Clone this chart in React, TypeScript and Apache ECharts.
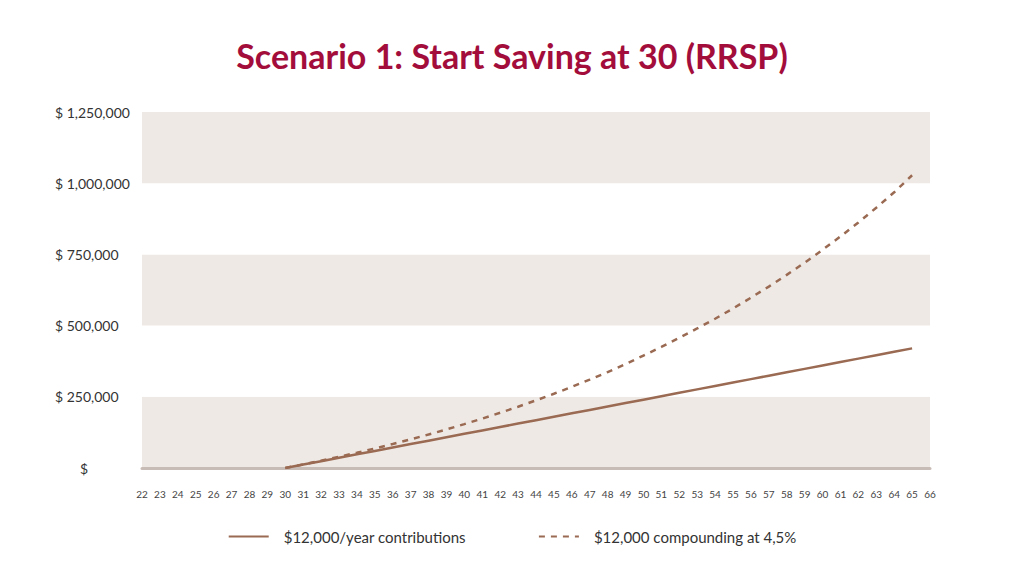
import React, { useEffect, useRef } from "react";
import * as echarts from "echarts";

const titleText = "Scenario 1: Start Saving at 30 (RRSP)";
const ages = [
  "22","23","24","25","26","27","28","29","30","31","32","33","34","35","36","37","38","39","40","41","42","43","44",
  "45","46","47","48","49","50","51","52","53","54","55","56","57","58","59","60","61","62","63","64","65","66",
];
const seriesNames = ["$12,000/year contributions", "$12,000 compounding at 4,5%"];
const contributions = [
  null, null, null, null, null, null, null, null,
  0, 12000, 24000, 36000, 48000, 60000, 72000, 84000, 96000, 108000, 120000,
  132000, 144000, 156000, 168000, 180000, 192000, 204000, 216000, 228000, 240000,
  252000, 264000, 276000, 288000, 300000, 312000, 324000, 336000, 348000, 360000,
  372000, 384000, 396000, 408000, 420000, null,
];
const compounding = [
  null, null, null, null, null, null, null, null,
  0, 12540, 25644, 39338, 53648, 68603, 84230, 100560, 117626, 135459, 154095,
  173569, 193919, 215185, 237408, 260631, 284900, 310260, 336762, 364456, 395000,
  425000, 457000, 490000, 524000, 560000, 598000, 637000, 678000, 721000, 766000,
  813000, 862000, 914000, 968000, 1028000, null,
];
const yTicks = [0, 250000, 500000, 750000, 1000000, 1250000];

const BROWN = "#9a6a52";
const FONT = "Lato";

export default function App() {
  const ref = useRef<HTMLDivElement>(null);
  useEffect(() => {
    document.body.style.margin = "0";
    const chart = echarts.init(ref.current!, null, { renderer: "svg" });
    chart.setOption({
      animation: false,
      backgroundColor: "#ffffff",
      title: {
        text: titleText,
        left: "center",
        top: 33,
        textStyle: { color: "#a30d3b", fontFamily: FONT, fontWeight: "bold", fontSize: 34 },
      },
      grid: { left: 142, right: 94, top: 112, bottom: 108 },
      legend: {
        bottom: 27,
        left: "center",
        itemWidth: 40,
        itemHeight: 10,
        itemGap: 72,
        itemStyle: { opacity: 0 },
        textStyle: { fontFamily: FONT, fontSize: 15, color: "#333", padding: [0, 0, 0, 10] },
        data: seriesNames,
      },
      xAxis: {
        type: "category",
        data: ages,
        boundaryGap: false,
        axisLine: { show: true, lineStyle: { color: "#c8bcb7", width: 3 } },
        axisTick: { show: false },
        axisLabel: { fontFamily: FONT, fontSize: 10, color: "#444", margin: 21, interval: 0 },
        splitLine: { show: false },
      },
      yAxis: {
        type: "value",
        min: 0,
        max: yTicks[yTicks.length - 1],
        interval: 250000,
        axisLine: { show: false },
        axisTick: { show: false },
        splitLine: { show: false },
        splitArea: { show: true, areaStyle: { color: ["#efe9e5", "#ffffff"] } },
        axisLabel: {
          align: "left",
          margin: 87,
          fontFamily: FONT,
          fontSize: 14,
          color: "#333333",
          formatter: (v: number) =>
            v === 0 ? "{z|$}" : "$ " + v.toLocaleString("en-US"),
          rich: { z: { padding: [0, 0, 0, 25], fontFamily: FONT, fontSize: 14, color: "#333333" } },
        },
      },
      series: [
        {
          name: seriesNames[0],
          type: "line",
          data: contributions,
          symbol: "none",
          lineStyle: { color: BROWN, width: 2.5 },
          itemStyle: { color: BROWN },
          z: 3,
        },
        {
          name: seriesNames[1],
          type: "line",
          data: compounding,
          symbol: "none",
          lineStyle: { color: BROWN, width: 2.5, type: [6, 6] },
          itemStyle: { color: BROWN },
          z: 2,
        },
      ],
    });
    return () => chart.dispose();
  }, []);
  return <div ref={ref} style={{ width: 1024, height: 576 }} />;
}
